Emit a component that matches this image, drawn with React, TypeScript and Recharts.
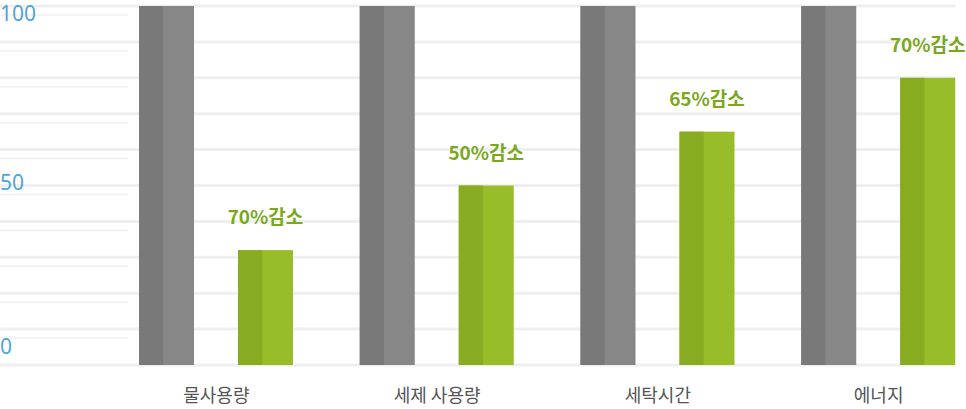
import React from 'react';
import { BarChart, Bar, XAxis, YAxis, CartesianGrid, LabelList } from 'recharts';

const categories = ['물사용량', '세제 사용량', '세탁시간', '에너지'];
const beforeValues = [100, 100, 100, 100];
const afterValues = [32, 50, 65, 80];
const reductionLabels = ['70%감소', '50%감소', '65%감소', '70%감소'];
const yTicks = [0, 50, 100];
const majorTicks = [0, 10, 20, 30, 40, 50, 60, 70, 80, 90, 100];
const minorTicks = [
    2.5, 5, 7.5, 12.5, 15, 17.5, 22.5, 25, 27.5, 32.5, 35, 37.5, 42.5, 45, 47.5,
    52.5, 55, 57.5, 62.5, 65, 67.5, 72.5, 75, 77.5, 82.5, 85, 87.5, 92.5, 95, 97.5,
];

const chartData = categories.map((name, i) => ({
    name,
    before: beforeValues[i],
    after: afterValues[i],
    label: reductionLabels[i],
}));

const KR_FONT = '"Noto Sans CJK KR", "Noto Sans", sans-serif';

// bars are drawn in two tones: a darker left strip over a lighter body
const twoTone = (dark: string, light: string) => (props: any) => {
    const { x, y, width, height } = props;
    if (!height || height <= 0) return null;
    return (
        <g>
            <rect x={x} y={y} width={width} height={height} fill={light} />
            <rect x={x} y={y} width={width * 0.44} height={height} fill={dark} />
        </g>
    );
};

// y labels sit a bit off their grid lines in the original
const tickShift: Record<number, number> = { 0: -18, 50: -3, 100: 5 };

const YTick = (props: any) => {
    const { y, payload } = props;
    return (
        <text
            x={0}
            y={y + (tickShift[payload.value] ?? 0)}
            dy="0.35em"
            textAnchor="start"
            fill="#4ea5da"
            fontSize={21}
            fontFamily='"Noto Sans", "Open Sans", sans-serif'
        >
            {payload.value}
        </text>
    );
};

const majorLine = (props: any) => {
    const { y1, x2, index } = props;
    return (
        <line key={`major-${index}`} x1={0} x2={x2 - 34} y1={y1} y2={y1} stroke="#efefef" strokeWidth={3} />
    );
};

const minorLine = (props: any) => {
    const { y1, x1, index } = props;
    return (
        <line key={`minor-${index}`} x1={0} x2={x1 + 22} y1={y1} y2={y1} stroke="#f0f0f0" strokeWidth={1.5} />
    );
};

export default function App() {
    return (
        <div
            style={{
                position: 'absolute',
                left: 0,
                top: 0,
                width: 966,
                height: 409,
                overflow: 'hidden',
                background: '#fff',
            }}
        >
            <BarChart
                width={989}
                height={409}
                data={chartData}
                margin={{ top: 6, right: 0, bottom: 0, left: 0 }}
                barSize={55}
                barGap={44}
            >
                <CartesianGrid vertical={false} horizontalValues={minorTicks} horizontal={minorLine} />
                <CartesianGrid vertical={false} horizontalValues={majorTicks} horizontal={majorLine} />
                <XAxis
                    dataKey="name"
                    height={44}
                    axisLine={false}
                    tickLine={false}
                    tickSize={0}
                    tickMargin={24}
                    tick={{ fill: '#555', fontSize: 18, fontFamily: KR_FONT }}
                />
                <YAxis
                    width={106}
                    domain={[0, 100]}
                    ticks={yTicks}
                    axisLine={false}
                    tickLine={false}
                    tick={<YTick />}
                />
                <Bar dataKey="before" shape={twoTone('#797979', '#878787')} isAnimationActive={false} />
                <Bar dataKey="after" shape={twoTone('#87ac22', '#97be29')} isAnimationActive={false}>
                    <LabelList
                        dataKey="label"
                        position="top"
                        offset={26}
                        fill="#7aa81c"
                        fontSize={19}
                        fontWeight="bold"
                        fontFamily={KR_FONT}
                    />
                </Bar>
            </BarChart>
        </div>
    );
}
